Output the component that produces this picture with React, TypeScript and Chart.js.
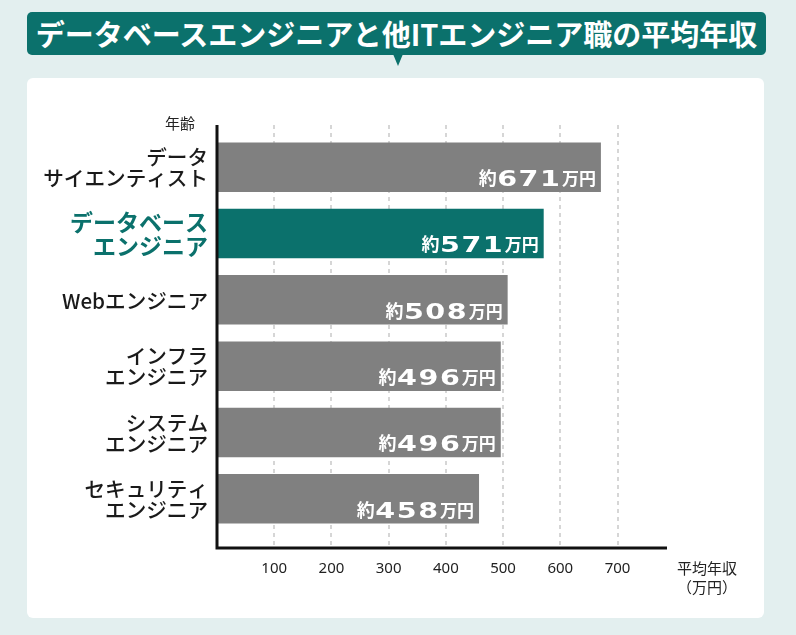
import React, { useEffect, useRef } from "react";
import { Chart, registerables } from "chart.js";

Chart.register(...registerables);

const TITLE = "データベースエンジニアと他ITエンジニア職の平均年収";
const CATEGORIES: string[][] = [
  ["データ", "サイエンティスト"],
  ["データベース", "エンジニア"],
  ["Webエンジニア"],
  ["インフラ", "エンジニア"],
  ["システム", "エンジニア"],
  ["セキュリティ", "エンジニア"],
];
const SALARIES = [671, 571, 508, 496, 496, 458];
const HIGHLIGHT_INDEX = 1;
const X_TICKS = [100, 200, 300, 400, 500, 600, 700];
const X_MAX = 790;
const Y_AXIS_TITLE = "年齢";
const X_AXIS_TITLE = ["平均年収", "（万円）"];
const VALUE_PREFIX = "約";
const VALUE_SUFFIX = "万円";

const TEAL = "#0b716c";
const GRAY = "#808080";
const BG = "#e3efef";
const JP = "'Noto Sans CJK JP', 'Noto Sans', sans-serif";

const overlay = {
  id: "overlay",
  beforeDatasetsDraw(chart: any) {
    const { ctx, chartArea: a, scales } = chart;
    const x = scales.x;
    const top = a.top - 9;
    const bottom = a.bottom + 16;
    ctx.save();
    ctx.strokeStyle = "#c9c9c9";
    ctx.lineWidth = 1.5;
    ctx.setLineDash([4, 4]);
    X_TICKS.forEach((v) => {
      const px = Math.round(x.getPixelForValue(v));
      ctx.beginPath();
      ctx.moveTo(px, top);
      ctx.lineTo(px, bottom);
      ctx.stroke();
    });
    ctx.restore();
  },
  afterDatasetsDraw(chart: any) {
    const { ctx, chartArea: a, scales } = chart;
    const x = scales.x;
    const y = scales.y;
    const top = a.top - 9;
    const axisY = a.bottom + 16;
    const xEnd = x.getPixelForValue(X_MAX) - 2;
    ctx.save();
    // axes
    ctx.strokeStyle = "#111";
    ctx.lineWidth = 3;
    ctx.setLineDash([]);
    ctx.beginPath();
    ctx.moveTo(a.left, top);
    ctx.lineTo(a.left, axisY);
    ctx.lineTo(xEnd, axisY);
    ctx.stroke();

    // value labels
    const meta = chart.getDatasetMeta(0);
    const sx = 1.3;
    meta.data.forEach((bar: any, i: number) => {
      const p = bar.getProps(["x", "y", "height"], true);
      const baseline = p.y + p.height / 2 - 6;
      let right = p.x - 5;
      ctx.fillStyle = "#fff";
      ctx.textBaseline = "alphabetic";
      ctx.textAlign = "right";
      ctx.font = `bold 17px ${JP}`;
      ctx.fillText(VALUE_SUFFIX, right, baseline - 1);
      right -= ctx.measureText(VALUE_SUFFIX).width + 2;
      ctx.font = "bold 22px 'DejaVu Sans'";
      const digits = String(SALARIES[i]).split("").reverse();
      digits.forEach((d, k) => {
        ctx.save();
        ctx.translate(right, baseline);
        ctx.scale(sx, 1);
        ctx.fillText(d, 0, 0);
        ctx.restore();
        right -= ctx.measureText(d).width * sx + (k < digits.length - 1 ? 1.5 : 0.5);
      });
      ctx.font = `bold 18px ${JP}`;
      ctx.fillText(VALUE_PREFIX, right, baseline - 1);
    });

    // category labels
    ctx.textAlign = "right";
    ctx.textBaseline = "middle";
    CATEGORIES.forEach((lines, i) => {
      const cy = y.getPixelForValue(i);
      const hi = i === HIGHLIGHT_INDEX;
      ctx.fillStyle = hi ? TEAL : "#1a1a1a";
      ctx.font = hi ? `bold 23px ${JP}` : `500 20.6px ${JP}`;
      const lh = hi ? 24 : 21;
      const start = cy + 1 - ((lines.length - 1) * lh) / 2;
      lines.forEach((t, k) => ctx.fillText(t, a.left - 9, start + k * lh));
    });

    // x tick labels
    ctx.textAlign = "center";
    ctx.fillStyle = "#222";
    ctx.font = "15px 'Noto Sans', sans-serif";
    X_TICKS.forEach((v) => {
      ctx.fillText(String(v), x.getPixelForValue(v), axisY + 21);
    });

    // axis titles
    ctx.font = `15px ${JP}`;
    const tx = x.getPixelForValue(X_MAX) + 38;
    X_AXIS_TITLE.forEach((t, k) => ctx.fillText(t, tx, axisY + 20 + k * 19));
    ctx.fillText(Y_AXIS_TITLE, a.left - 37, a.top - 11);
    ctx.restore();
  },
};

export default function App() {
  const ref = useRef<HTMLCanvasElement>(null);
  useEffect(() => {
    const chart = new Chart(ref.current as HTMLCanvasElement, {
      type: "bar",
      data: {
        labels: CATEGORIES,
        datasets: [
          {
            data: SALARIES,
            backgroundColor: SALARIES.map((_, i) => (i === HIGHLIGHT_INDEX ? TEAL : GRAY)),
            borderWidth: 0,
            categoryPercentage: 1,
            barPercentage: 0.745,
          },
        ],
      },
      options: {
        indexAxis: "y",
        responsive: false,
        animation: false,
        layout: { padding: { left: 217, right: 127, top: 134, bottom: 103 } },
        plugins: { legend: { display: false }, tooltip: { enabled: false } },
        scales: {
          x: { type: "linear", min: 0, max: X_MAX, display: false },
          y: { type: "category", display: false, offset: true },
        },
      },
      plugins: [overlay],
    });
    return () => chart.destroy();
  }, []);

  return (
    <div
      style={{
        position: "absolute",
        left: 0,
        top: 0,
        width: 796,
        height: 635,
        background: BG,
        overflow: "hidden",
      }}
    >
      <div
        style={{
          position: "absolute",
          left: 27,
          top: 78,
          width: 737,
          height: 540,
          background: "#fff",
          borderRadius: 6,
        }}
      />
      <div
        style={{
          position: "absolute",
          left: 27,
          top: 12,
          width: 739,
          height: 43,
          background: TEAL,
          borderRadius: 5,
          color: "#fff",
          fontFamily: JP,
          fontWeight: 700,
          fontSize: 29,
          lineHeight: "43px",
          textAlign: "center",
          whiteSpace: "nowrap",
        }}
      >
        {TITLE}
      </div>
      <div
        style={{
          position: "absolute",
          left: 393,
          top: 54,
          width: 0,
          height: 0,
          borderLeft: "5px solid transparent",
          borderRight: "5px solid transparent",
          borderTop: `12px solid ${TEAL}`,
        }}
      />
      <canvas
        ref={ref}
        width={796}
        height={635}
        style={{ position: "absolute", left: 0, top: 0 }}
      />
    </div>
  );
}
